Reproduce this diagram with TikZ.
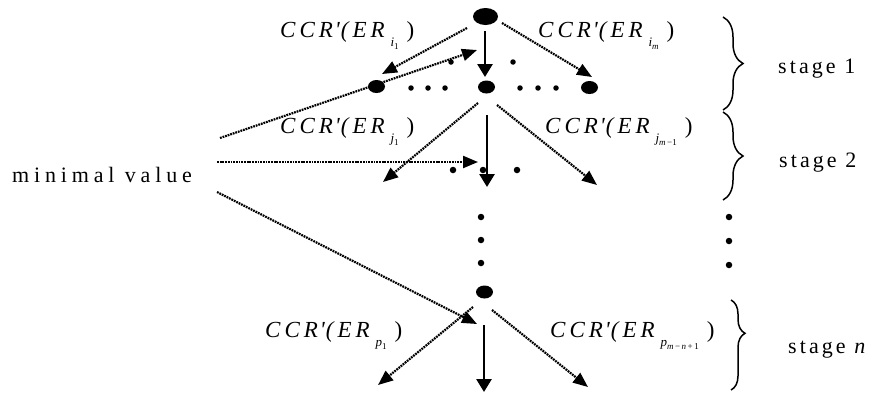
\documentclass[tikz,border=0pt]{standalone}
\usepackage{fontspec}
\setmainfont{Liberation Serif}
\newfontfamily\stagefont[LetterSpace=14]{Liberation Serif}
\newfontfamily\minfont[LetterSpace=22]{Liberation Serif}
\usetikzlibrary{arrows.meta,decorations.pathreplacing,shapes.geometric}
\newcommand\ccrsub[2]{{\fontsize{13}{13}\selectfont\textit{#1}\raisebox{-3pt}{\fontsize{9}{9}\selectfont #2}}}
\newcommand\ccrlab[1]{\textit{C\kern4pt C\kern4pt R\kern2pt\textquotesingle\kern1pt(\kern4pt E\kern4pt R}\kern6pt\raisebox{-9pt}{#1}\kern8pt)}
\tikzset{
  bigdot/.style={ellipse, fill=black, inner sep=0pt, minimum width=25pt, minimum height=17pt},
  smalldot/.style={ellipse, fill=black, inner sep=0pt, minimum width=17pt, minimum height=13pt},
  pdot/.style={circle, fill=black, inner sep=0pt, minimum size=6.5pt},
  rdot/.style={circle, fill=black, inner sep=0pt, minimum size=5.5pt},
  dotarrow/.style={line width=2.2pt, dash pattern=on 1.8pt off 0.9pt, -{Triangle[length=15pt,width=12pt]}},
  solidarrow/.style={line width=2.8pt, -{Triangle[length=13pt,width=15pt]}},
  lab/.style={anchor=base west, inner sep=0pt, font=\fontsize{23}{26}\selectfont},
  stagelab/.style={anchor=base west, inner sep=0pt, font=\fontsize{22}{26}\stagefont},
  bracestyle/.style={decorate, decoration={brace, amplitude=#1}, line width=1.5pt}
}
\begin{document}
\begin{tikzpicture}[x=1pt,y=-1pt]
\useasboundingbox (0,0) rectangle (872,394);
% nodes
\node[bigdot] (top) at (485.5,16.5) {};
\node[smalldot] (l1) at (376.5,86.5) {};
\node[smalldot] (m1) at (486.5,87) {};
\node[smalldot] (r1) at (589.5,87.5) {};
\node[smalldot] (mn) at (484.5,292) {};
% row dots
\foreach \x [count=\i] in {411,428,445} {\node[rdot] (ld\i) at (\x,88) {};}
\foreach \x [count=\i] in {520,538,556} {\node[rdot] (rd\i) at (\x,88) {};}
\node[rdot] (sa) at (451,62) {};
\node[rdot] (sb) at (513,62) {};
\node[pdot] (s2a) at (453,170) {};
\node[pdot] (s2b) at (483,170) {};
\node[pdot] (s2c) at (517,170) {};
\node[pdot] (v1) at (481,217) {};
\node[pdot] (v2) at (481,240) {};
\node[pdot] (v3) at (481,263) {};
\node[pdot] (w1) at (729,217) {};
\node[pdot] (w2) at (729,241) {};
\node[pdot] (w3) at (729,265) {};
% labels
\node[lab] (li1) at (280,37) {\ccrlab{\ccrsub{i}{1}}};
\node[lab] (lim) at (538,37) {\ccrlab{\ccrsub{i}{\textit{m}}}};
\node[lab] (lj1) at (280,133) {\ccrlab{\ccrsub{j}{1}}};
\node[lab] (ljm) at (545,133) {\ccrlab{\ccrsub{j}{\textit{m}\,−1}}};
\node[lab] (lp1) at (265,337) {\ccrlab{\ccrsub{p}{1}}};
\node[lab] (lpm) at (550,337) {\ccrlab{\ccrsub{p}{\textit{m}\,−\,\textit{n}\,+\,1}}};
\node[anchor=base west, inner sep=0pt, font=\fontsize{22}{26}\minfont] (mv) at (12,182) {minimal value};
\node[stagelab] (st1) at (778,73) {stage 1};
\node[stagelab] (st2) at (779,167) {stage 2};
\node[stagelab] (stn) at (788,353) {stage \textit{n}};
% coordinates
\coordinate (a1s) at (467,28); \coordinate (a1e) at (382,74);
\coordinate (a2s) at (502,23); \coordinate (a2e) at (592,77);
\coordinate (a3s) at (485,31); \coordinate (a3e) at (485,77);
\coordinate (m1s) at (220,138); \coordinate (m1e) at (477,50);
\coordinate (m2s) at (217,162); \coordinate (m2e) at (478,162);
\coordinate (m3s) at (217,192); \coordinate (m3e) at (477,324);
\coordinate (b1s) at (478,103); \coordinate (b1e) at (383,182);
\coordinate (b2s) at (497,105); \coordinate (b2e) at (597,185);
\coordinate (b3s) at (487,115); \coordinate (b3e) at (487,187);
\coordinate (c1s) at (473,307); \coordinate (c1e) at (378,385);
\coordinate (c2s) at (492,310); \coordinate (c2e) at (588,387);
\coordinate (c3s) at (484,325); \coordinate (c3e) at (484,392);
% arrows
\draw[dotarrow] (a1s) -- (a1e);
\draw[dotarrow] (a2s) -- (a2e);
\draw[solidarrow] (a3s) -- (a3e);
\draw[dotarrow] (m1s) -- (m1e);
\draw[dotarrow] (m2s) -- (m2e);
\draw[dotarrow] (m3s) -- (m3e);
\draw[dotarrow] (b1s) -- (b1e);
\draw[dotarrow] (b2s) -- (b2e);
\draw[solidarrow] (b3s) -- (b3e);
\draw[dotarrow] (c1s) -- (c1e);
\draw[dotarrow] (c2s) -- (c2e);
\draw[solidarrow] (c3s) -- (c3e);
% braces
\draw[bracestyle=20pt] (723,17) -- (723,110);
\draw[bracestyle=20pt] (723,112) -- (723,200);
\draw[bracestyle=14pt, decoration={aspect=0.37}] (731,300) -- (731,390);
\end{tikzpicture}
\end{document}
